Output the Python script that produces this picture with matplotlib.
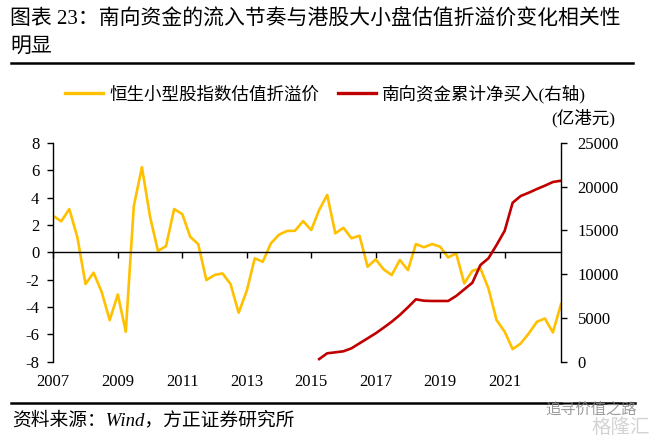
import matplotlib
matplotlib.use("Agg")
import matplotlib.pyplot as plt
import matplotlib.dates as mdates
from matplotlib.lines import Line2D
import pandas as pd

# ---------------- data ----------------
dates = pd.date_range("2007-01-01", periods=64, freq="QS")
premium = [2.66, 2.27, 3.17, 1.10, -2.32, -1.49, -2.88, -4.96, -3.08, -5.81,
           3.39, 6.23, 2.61, 0.10, 0.46, 3.17, 2.80, 1.14, 0.60, -2.03,
           -1.66, -1.54, -2.32, -4.42, -2.81, -0.44, -0.69, 0.66, 1.29, 1.56,
           1.58, 2.29, 1.63, 3.10, 4.20, 1.39, 1.80, 1.03, 1.22, -1.05,
           -0.51, -1.25, -1.66, -0.56, -1.30, 0.61, 0.37, 0.61, 0.41, -0.37,
           -0.07, -2.27, -1.35, -1.17, -2.64, -4.96, -5.81, -7.08, -6.67, -5.93,
           -5.08, -4.84, -5.86, -3.79]
south_start = 33
southbound = [300, 960, 1070, 1190, 1530, 2100, 2670, 3250, 3890, 4570,
              5340, 6220, 7130, 6970, 6940, 6940, 6940, 7510, 8270, 9030,
              11050, 11820, 13340, 14970, 18170, 18940, 19320, 19740, 20120, 20540,
              20690]
year_ticks = [2007, 2009, 2011, 2013, 2015, 2017, 2019, 2021]
left_ticks = [-8, -6, -4, -2, 0, 2, 4, 6, 8]
right_ticks = [0, 5000, 10000, 15000, 20000, 25000]

title1 = "图表 23：南向资金的流入节奏与港股大小盘估值折溢价变化相关性"
title2 = "明显"
label_prem = "恒生小型股指数估值折溢价"
label_south = "南向资金累计净买入(右轴)"
unit_text = "(亿港元)"
source_text = "资料来源：Wind，方正证券研究所"

YELLOW = "#FFC000"
RED = "#C00000"
FAM = ["Liberation Serif", "Noto Sans CJK SC"]

plt.rcParams["font.family"] = FAM
plt.rcParams["axes.unicode_minus"] = False

W, H = 662, 442
fig = plt.figure(figsize=(6.62, 4.42), dpi=100)
ax = fig.add_axes([53.3 / W, 1 - 361.7 / H, (561 - 53.3) / W, (361.7 - 143) / H])

x_all = mdates.date2num(dates)
ax.plot(x_all, premium, color=YELLOW, lw=1.9)
ax.set_xlim(x_all[0], x_all[-1])
ax.set_ylim(-8, 8)
ax.set_yticks(left_ticks)
ax.set_yticklabels([str(v) for v in left_ticks])

for s in ["top", "right"]:
    ax.spines[s].set_visible(False)
ax.spines["bottom"].set_position(("data", 0))
ax.spines["bottom"].set_linewidth(1.0)
ax.spines["left"].set_linewidth(1.0)

xt = [mdates.date2num(pd.Timestamp(f"{y}-01-01")) for y in year_ticks]
ax.set_xticks(xt)
ax.tick_params(axis="x", direction="out", length=4, width=1.0, labelbottom=False)
ax.tick_params(axis="y", direction="out", length=4, width=1.0, labelsize=12, pad=6)

sec = ax.secondary_xaxis("bottom")
sec.set_xticks(xt)
sec.set_xticklabels([str(y) for y in year_ticks])
sec.spines["bottom"].set_visible(False)
sec.tick_params(length=0, labelsize=12, pad=9)

ax2 = ax.twinx()
ax2.plot(x_all[south_start:], southbound, color=RED, lw=1.9)
ax2.set_ylim(0, 25000)
ax2.set_yticks(right_ticks)
ax2.set_yticklabels([str(v) for v in right_ticks])
for s in ["top", "left", "bottom"]:
    ax2.spines[s].set_visible(False)
ax2.spines["right"].set_linewidth(1.0)
ax2.tick_params(axis="y", direction="out", length=4, width=1.0, labelsize=12, pad=8)
ax2.set_xlim(x_all[0], x_all[-1])

# legend
handles = [Line2D([], [], color=YELLOW, lw=2.4), Line2D([], [], color=RED, lw=2.4)]
fig.legend(handles, [label_prem, label_south], loc="center",
           bbox_to_anchor=(325.7 / W, 1 - 94 / H), ncol=2, frameon=False,
           prop={"family": FAM, "size": 12.6}, handlelength=2.15,
           handletextpad=0.37, columnspacing=1.05, borderpad=0, borderaxespad=0)
fig.text(583.5 / W, 1 - 118.5 / H, unit_text, ha="center", va="center",
         fontsize=12.6, family=FAM)

# title
fig.text(10 / W, 1 - 20 / H, title1, ha="left", va="center", fontsize=15, family=FAM)
fig.text(10 / W, 1 - 47.5 / H, title2, ha="left", va="center", fontsize=15, family=FAM)

# rules
fig.add_artist(Line2D([10.6 / W, 633 / W], [1 - 63.5 / H, 1 - 63.5 / H],
                      color="black", lw=1.8, transform=fig.transFigure))
fig.add_artist(Line2D([10.6 / W, 635 / W], [1 - 403.3 / H, 1 - 403.3 / H],
                      color="black", lw=1.8, transform=fig.transFigure))

# source
fig.text(12 / W, 1 - 420 / H, source_text, ha="left", va="center",
         fontsize=13.5, family=FAM, style="italic")

# watermark
fig.text(591 / W, 1 - 410 / H, "追寻价值之路", ha="center", va="center",
         fontsize=11, family=FAM, color="#8a8a8a", alpha=0.85)
fig.text(621 / W, 1 - 428 / H, "格隆汇", ha="center", va="center",
         fontsize=14, family=FAM, color="#cccccc", alpha=0.85)

fig.savefig("out.png", dpi=100)
